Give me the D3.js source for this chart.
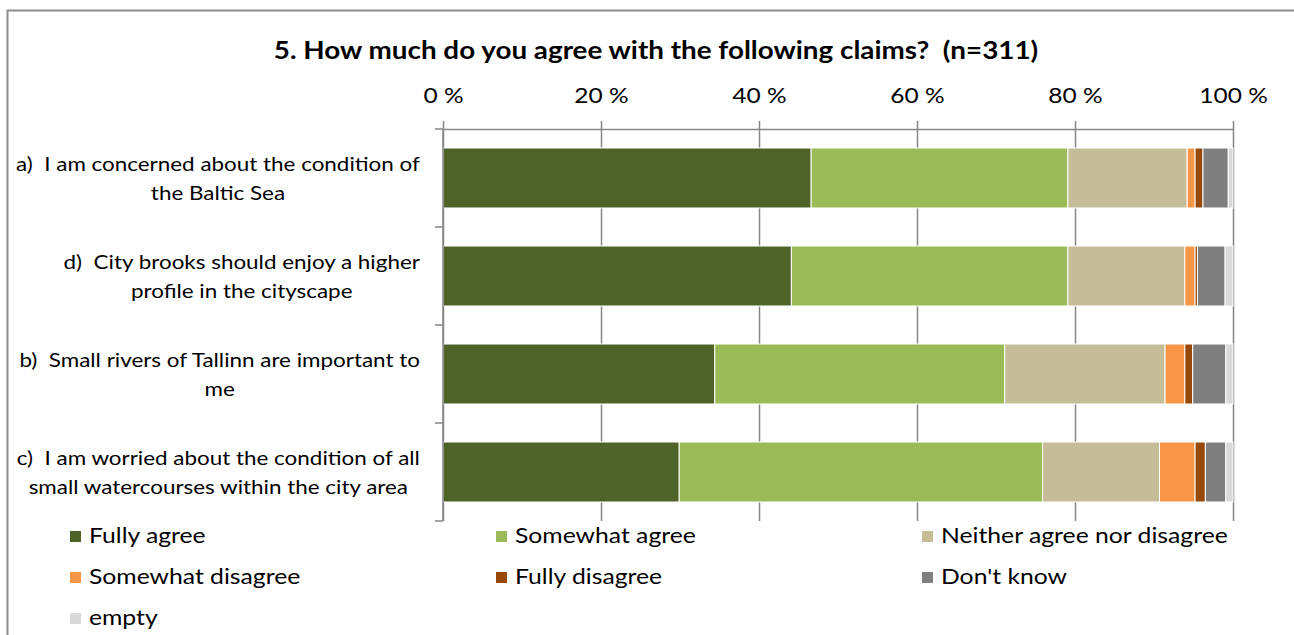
<!DOCTYPE html>
<html>
<head>
<meta charset="utf-8">
<script src="https://cdn.jsdelivr.net/npm/d3@7/dist/d3.min.js"></script>
<style>
  html, body { margin: 0; padding: 0; background: #fff; }
  svg { display: block; font-family: Lato, "Liberation Sans", sans-serif; }
  svg text { white-space: pre; }
</style>
</head>
<body>
<svg id="chart" width="1294" height="635"></svg>
<script>
// Survey question 5 (n=311): share of answers per claim, in percent
const categories = [
  "a)  I am concerned about the condition of|the Baltic Sea",
  "d)  City brooks should enjoy a higher|profile in the cityscape",
  "b)  Small rivers of Tallinn are important to|me",
  "c)  I am worried about the condition of all|small watercourses within the city area"
];
const seriesNames = ["Fully agree", "Somewhat agree", "Neither agree nor disagree",
  "Somewhat disagree", "Fully disagree", "Don't know", "empty"];
const fullyAgree       = [46.6, 44.1, 34.4, 29.9];
const somewhatAgree    = [32.5, 35.0, 36.7, 46.0];
const neither          = [15.1, 14.8, 20.3, 14.8];
const somewhatDisagree = [1.0, 1.3, 2.5, 4.5];
const fullyDisagree    = [1.0, 0.3, 1.0, 1.3];
const dontKnow         = [3.2, 3.5, 4.2, 2.6];
const emptyAnswer      = [0.6, 1.0, 0.9, 0.9];
const tickValues = [0, 20, 40, 60, 80, 100];
const colors = ["#4f6228", "#9bbb59", "#c4bd97", "#f79646", "#984807", "#7f7f7f", "#d9d9d9"];

const seriesValues = [fullyAgree, somewhatAgree, neither, somewhatDisagree, fullyDisagree, dontKnow, emptyAnswer];
const rows = categories.map((c, i) => {
  const r = { cat: c };
  seriesNames.forEach((s, j) => { r[s] = seriesValues[j][i]; });
  return r;
});

const svg = d3.select("#chart");
const gridColor = "#878787";
const sx = 1.15; // horizontal widening of all text

// outer chart frame (top and left edges visible)
svg.append("path")
  .attr("d", "M7.5,635 V10.5 H1294")
  .attr("fill", "none").attr("stroke", "#8c8c8c").attr("stroke-width", 2);

// title
svg.append("text")
  .attr("transform", `translate(656,59) scale(${sx},1)`)
  .attr("text-anchor", "middle")
  .attr("font-weight", "bold").attr("font-size", 24.2)
  .attr("fill", "#000")
  .text("5. How much do you agree with the following claims?  (n=311)");

const x = d3.scaleLinear().domain([0, 100]).range([443, 1233]);
const y = d3.scaleBand().domain(categories).range([129, 521])
  .paddingInner(0.388).paddingOuter(0.194);

// vertical gridlines
const grid = svg.append("g").attr("transform", `translate(0,${y.range()[0]})`)
  .call(d3.axisTop(x).tickValues(tickValues).tickSize(-(y.range()[1] - y.range()[0])).tickFormat(""));
grid.select(".domain").remove();
grid.selectAll("line").attr("stroke", gridColor).attr("stroke-width", 1.5);

// top value axis with outward ticks and labels
const xAxis = svg.append("g").attr("transform", `translate(0,${y.range()[0]})`)
  .call(d3.axisTop(x).tickValues(tickValues).tickSizeInner(8).tickSizeOuter(0)
    .tickPadding(18).tickFormat(d => d + " %"));
xAxis.select(".domain").attr("stroke", gridColor).attr("stroke-width", 1.5);
xAxis.selectAll("line").attr("stroke", gridColor).attr("stroke-width", 1.5);
xAxis.selectAll("text")
  .attr("font-size", 21.3).attr("fill", "#000").attr("font-family", "Lato, sans-serif")
  .attr("transform", `scale(${sx},1)`);

// stacked bars
const stack = d3.stack().keys(seriesNames);
const layers = stack(rows);
svg.append("g").selectAll("g").data(layers).join("g")
  .attr("fill", (d, i) => colors[i])
  .selectAll("rect").data(d => d).join("rect")
  .attr("x", d => x(d[0]))
  .attr("y", d => y(d.data.cat))
  .attr("width", d => Math.max(0, x(d[1]) - x(d[0])))
  .attr("height", y.bandwidth())
  .attr("stroke", "#fff").attr("stroke-width", 1);

// category axis: line at 0 and ticks between categories
const catAxis = svg.append("g");
catAxis.append("line")
  .attr("x1", x(0)).attr("x2", x(0))
  .attr("y1", y.range()[0]).attr("y2", y.range()[1])
  .attr("stroke", gridColor).attr("stroke-width", 1.5);
const bounds = categories.map(c => y(c) - y.step() * y.paddingInner() / 2);
bounds[0] = y.range()[0];
bounds.push(y.range()[1]);
catAxis.selectAll("line.tick").data(bounds).join("line").attr("class", "tick")
  .attr("x1", x(0) - 8).attr("x2", x(0))
  .attr("y1", d => d).attr("y2", d => d)
  .attr("stroke", gridColor).attr("stroke-width", 1.5);

// category labels: two centred lines, block right-aligned to the axis
const labelRight = 420;
categories.forEach(c => {
  const lines = c.split("|");
  const g = svg.append("g");
  const cy = y(c) + y.bandwidth() / 2;
  const texts = lines.map((ln, k) => g.append("text")
    .attr("font-size", 19.5).attr("fill", "#000")
    .attr("text-anchor", "middle")
    .text(ln));
  const w = d3.max(texts, t => t.node().getComputedTextLength()) * sx;
  texts.forEach((t, k) => t.attr("transform",
    `translate(${labelRight - w / 2},${cy - 7 + k * 29}) scale(${sx},1)`));
});

// legend
const legend = svg.append("g");
seriesNames.forEach((s, i) => {
  const col = i % 3, row = Math.floor(i / 3);
  const lx = 70 + col * 426, ly = 543 + row * 41;
  legend.append("rect").attr("x", lx).attr("y", ly - 12).attr("width", 11).attr("height", 11)
    .attr("fill", colors[i]);
  legend.append("text")
    .attr("transform", `translate(${lx + 19},${ly}) scale(${sx},1)`)
    .attr("font-size", 21.5).attr("fill", "#000").text(s);
});
</script>
</body>
</html>
